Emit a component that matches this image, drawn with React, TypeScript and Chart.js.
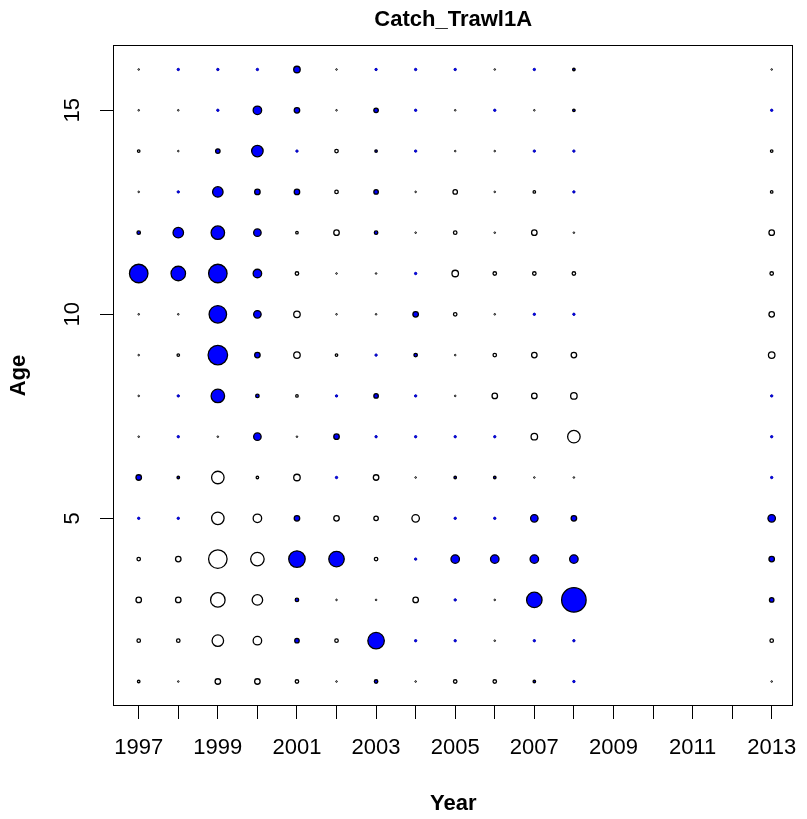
import React, { useEffect, useRef } from 'react';
import { Chart, registerables } from 'chart.js';

Chart.register(...registerables);

const chartTitle = 'Catch_Trawl1A';
const xTitle = 'Year';
const yTitle = 'Age';

const years = [1997, 1998, 1999, 2000, 2001, 2002, 2003, 2004, 2005, 2006, 2007, 2008, 2013];
const ages = [1, 2, 3, 4, 5, 6, 7, 8, 9, 10, 11, 12, 13, 14, 15, 16];
const xTickValues = [1997, 1998, 1999, 2000, 2001, 2002, 2003, 2004, 2005, 2006, 2007, 2008, 2009, 2010, 2011, 2012, 2013];
const yTickValues = [5, 10, 15];

// residuals by year, ages 1..16 (positive = filled blue, negative = open)
const resid1997 = [-0.16, -0.25, -0.49, -0.25, 0.04, 0.49, -0.01, -0.01, -0.01, -0.01, 4.0, 0.25, -0.01, -0.16, -0.01, -0.01];
const resid1998 = [-0.01, -0.25, -0.49, -0.49, 0.04, 0.16, 0.04, 0.09, -0.16, -0.01, 2.56, 1.44, 0.04, -0.01, -0.01, 0.04];
const resid1999 = [-0.49, -1.69, -2.56, -4.0, -1.96, -1.96, -0.01, 2.25, 4.41, 3.61, 4.0, 2.25, 1.44, 0.36, 0.04, 0.04];
const resid2000 = [-0.49, -1.0, -1.44, -2.25, -1.0, -0.16, 0.81, 0.25, 0.49, 0.81, 1.0, 0.81, 0.49, 1.69, 1.0, 0.04];
const resid2001 = [-0.25, 0.36, 0.25, 3.24, 0.49, -0.64, -0.01, -0.16, -0.64, -0.64, -0.25, -0.16, 0.49, 0.04, 0.49, 0.64];
const resid2002 = [-0.01, -0.25, -0.01, 2.89, -0.49, 0.09, 0.49, 0.09, -0.16, -0.01, -0.04, -0.49, -0.25, -0.25, -0.01, -0.01];
const resid2003 = [0.25, 3.24, -0.01, -0.25, -0.36, -0.49, 0.04, 0.36, 0.04, -0.01, -0.01, 0.25, 0.36, 0.16, 0.36, 0.04];
const resid2004 = [-0.01, 0.04, -0.49, 0.04, -0.81, -0.01, 0.04, 0.04, 0.25, 0.49, 0.04, -0.01, -0.01, 0.04, 0.04, 0.04];
const resid2005 = [-0.25, 0.04, 0.04, 1.0, 0.04, 0.16, 0.04, -0.01, -0.01, -0.25, -0.64, -0.25, -0.36, -0.01, -0.01, 0.04];
const resid2006 = [-0.25, -0.01, -0.01, 1.0, 0.09, 0.16, 0.04, -0.49, -0.25, -0.01, -0.25, -0.01, -0.01, -0.01, 0.04, -0.01];
const resid2007 = [0.16, 0.04, 2.89, 1.0, 0.81, -0.01, -0.64, -0.49, -0.49, 0.04, -0.25, -0.49, -0.16, 0.04, -0.01, 0.04];
const resid2008 = [0.04, 0.04, 6.76, 1.0, 0.49, -0.01, -1.96, -0.64, -0.49, 0.04, -0.25, -0.01, 0.04, 0.04, 0.16, 0.16];
const resid2013 = [-0.01, -0.25, 0.36, 0.49, 0.81, 0.04, 0.04, 0.04, -0.64, -0.49, -0.25, -0.49, -0.16, -0.16, 0.04, -0.01];

const residuals = [
  resid1997, resid1998, resid1999, resid2000, resid2001, resid2002, resid2003,
  resid2004, resid2005, resid2006, resid2007, resid2008, resid2013,
];

const FONT = '"Liberation Sans", Arial, Helvetica, sans-serif';

function isTiny(v: number): boolean {
  return Math.abs(v) < 0.1;
}

function radiusFor(v: number): number {
  const r = (10 * Math.sqrt(Math.abs(v)) - 1.5) / 2;
  if (v > 0 && isTiny(v)) return Math.max(1.2, r);
  return Math.max(0.8, r);
}

export default function App() {
  const ref = useRef<HTMLCanvasElement>(null);

  useEffect(() => {
    if (!ref.current) return;
    const points: { x: number; y: number; v: number }[] = [];
    years.forEach((yr, i) => {
      ages.forEach((age, j) => {
        points.push({ x: yr, y: age, v: residuals[i][j] });
      });
    });

    const boxPlugin = {
      id: 'plotBox',
      afterDatasetsDraw(chart: any) {
        const { ctx, chartArea: a } = chart;
        ctx.save();
        ctx.strokeStyle = '#000';
        ctx.lineWidth = 1;
        ctx.strokeRect(
          Math.round(a.left) + 0.5,
          Math.round(a.top) + 0.5,
          Math.round(a.right - a.left) - 1,
          Math.round(a.bottom - a.top) - 1
        );
        ctx.restore();
      },
    };

    const chart = new Chart(ref.current, {
      type: 'scatter',
      data: {
        datasets: [
          {
            data: points as any,
            pointRadius: (c: any) => radiusFor(c.raw.v),
            pointHoverRadius: (c: any) => radiusFor(c.raw.v),
            pointBackgroundColor: (c: any) => (c.raw.v > 0 ? '#0000FF' : 'rgba(255,255,255,0)'),
            pointBorderColor: (c: any) => (c.raw.v > 0 && isTiny(c.raw.v) ? '#0000B0' : '#000'),
            pointBorderWidth: (c: any) => (isTiny(c.raw.v) ? 1 : 1.3),
            pointHoverBorderWidth: 1,
          } as any,
        ],
      },
      options: {
        responsive: false,
        animation: false,
        events: [],
        layout: { padding: { left: 0, right: 8, top: 0, bottom: 0 } },
        plugins: {
          legend: { display: false },
          tooltip: { enabled: false },
          title: {
            display: true,
            text: chartTitle,
            fullSize: false,
            color: '#000',
            font: { family: FONT, size: 22, weight: 'bold', lineHeight: 1.2 },
            padding: { top: 7, bottom: 11.6 },
          },
        },
        scales: {
          x: {
            type: 'linear',
            min: 1996.35,
            max: 2013.55,
            afterBuildTicks: (s: any) => {
              s.ticks = xTickValues.map((v) => ({ value: v }));
            },
            afterFit: (s: any) => {
              s.height = 113;
              s.paddingLeft = 0;
              s.paddingRight = 0;
            },
            ticks: {
              autoSkip: false,
              minRotation: 0,
              maxRotation: 0,
              padding: 16,
              color: '#000',
              font: { family: FONT, size: 22 },
              callback: (v: any) => (Number(v) % 2 === 1 ? String(v) : ''),
            },
            grid: { drawOnChartArea: false, drawTicks: true, tickLength: 13, color: '#000', lineWidth: 1 },
            border: { display: false },
            title: {
              display: true,
              text: xTitle,
              color: '#000',
              font: { family: FONT, size: 22, weight: 'bold' },
              padding: { top: 0, bottom: 1.5 },
            },
          },
          y: {
            type: 'linear',
            min: 0.4,
            max: 16.6,
            afterBuildTicks: (s: any) => {
              s.ticks = yTickValues.map((v) => ({ value: v }));
            },
            afterFit: (s: any) => {
              s.width = 113;
              s.paddingTop = 0;
              s.paddingBottom = 0;
            },
            ticks: {
              minRotation: 90,
              maxRotation: 90,
              crossAlign: 'center',
              padding: 15,
              color: '#000',
              font: { family: FONT, size: 22 },
              callback: (v: any) => String(v),
            },
            grid: { drawOnChartArea: false, drawTicks: true, tickLength: 13, color: '#000', lineWidth: 1 },
            border: { display: false },
            title: {
              display: true,
              text: yTitle,
              color: '#000',
              font: { family: FONT, size: 22, weight: 'bold' },
              padding: { top: 5.8, bottom: 0 },
            },
          },
        },
      } as any,
      plugins: [boxPlugin],
    });

    return () => chart.destroy();
  }, []);

  return (
    <div style={{ position: 'fixed', left: 0, top: 0, width: 807, height: 819, background: '#fff' }}>
      <canvas ref={ref} width={807} height={819} style={{ display: 'block', width: 807, height: 819 }} />
    </div>
  );
}
